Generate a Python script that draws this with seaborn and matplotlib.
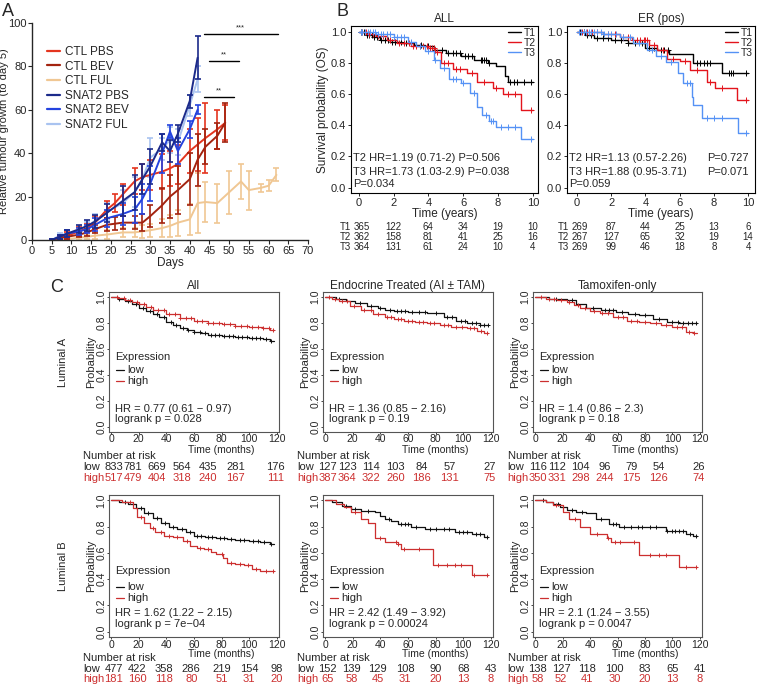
#!/usr/bin/env python3
"""Composite figure: tumour growth (A), OS by tertile (B), KM-plotter curves (C)."""

import matplotlib

matplotlib.use("Agg")
import matplotlib.pyplot as plt
from matplotlib.lines import Line2D
from matplotlib.transforms import blended_transform_factory
import numpy as np
import pandas as pd
import seaborn as sns

W, H = 757, 686

# ---------------------------------------------------------------------------
# Panel A: relative tumour growth
# ---------------------------------------------------------------------------
ctl_days = [5, 7, 9, 12, 14, 16, 19, 21, 23, 26, 28, 30, 33, 35, 37, 40, 42, 44, 47, 49]
ctl_pbs = [0, 1, 2, 4, 5.5, 8, 14, 17, 21, 27, 29, 30, 31.5, 33, 35, 41, 44, 47, 51, 54]
ctl_pbs_err = [0.5, 1, 1.5, 2, 2, 3, 4, 4, 5, 6, 6, 7, 8, 8, 9, 10, 12, 16, 9, 8]
ctl_bev = [0, 1, 1.5, 2.5, 3.5, 5, 7, 7.5, 8, 8, 8, 11, 16, 20, 23, 28, 37, 43, 48, 54]
ctl_bev_err = [0.5, 0.5, 1, 1, 1.5, 2, 3, 3, 3, 3, 4, 5, 8, 10, 11, 12, 12, 8, 6, 9]

ful_days = [5, 7, 9, 12, 14, 16, 19, 23, 26, 28, 30, 33, 35, 37, 40, 42, 44, 47, 50, 53,
            55, 58, 60, 62]
ctl_ful = [0, 0.3, 0.5, 1, 1.5, 2, 2.5, 3.5, 3.5, 4, 4.5, 5.5, 6.5, 8, 9.5, 17, 17.5, 17,
           22, 27, 23, 24, 25, 30]
ctl_ful_err = [0.3, 0.5, 0.5, 1, 1, 1.5, 2, 2, 2, 3, 3, 4, 5, 6, 7, 14, 9, 9, 10, 8, 9, 2,
               2.5, 3]

snat2_days = [5, 7, 9, 12, 14, 16, 19, 23, 26, 28, 30, 33, 35, 37, 40, 42]
snat2_pbs = [0, 1.5, 3, 5, 6.5, 8.5, 12.5, 18, 22, 28, 34, 45, 41, 49, 64, 84]
snat2_pbs_err = [0.5, 1, 1.5, 2, 2.5, 3, 4, 7, 8, 7, 8, 4, 5, 4, 3, 10]
snat2_bev = [0, 1.5, 3, 4, 5, 7, 10, 12, 14, 19, 26, 40, 50, 41, 51, 60]
snat2_bev_err = [0.5, 1, 1.5, 1.5, 2, 3, 4, 5, 6, 7, 8, 9, 3, 6, 4, 2]
snat2_ful = [0, 2, 3, 4.5, 6, 9, 13, 17, 22, 28, 38, 42, 46, 45, 62, 74]
snat2_ful_err = [0.5, 1, 1.5, 2, 2.5, 3, 4, 6, 7, 7, 9, 5, 6, 6, 5, 6]

groups = ["CTL PBS", "CTL BEV", "CTL FUL", "SNAT2 PBS", "SNAT2 BEV", "SNAT2 FUL"]
group_colors = {"CTL PBS": "#e4351f", "CTL BEV": "#a3230f", "CTL FUL": "#f0c793",
                "SNAT2 PBS": "#1b2a8a", "SNAT2 BEV": "#2443df", "SNAT2 FUL": "#a9c3f0"}

sig_x0 = [43.6, 44.9, 43.6]
sig_x1 = [62.3, 52.6, 51.3]
sig_y = [95, 82.5, 66]
sig_lab = ["***", "**", "**"]

# ---------------------------------------------------------------------------
# Panel B: survival by tertile (years)
# ---------------------------------------------------------------------------
all_t1_t = [0, 0.4, 0.8, 1.2, 1.8, 2.5, 3.2, 3.8, 4.3, 5.0, 5.9, 6.6, 7.4, 7.9, 8.4, 8.6, 10]
all_t1_s = [1.0, 0.985, 0.97, 0.95, 0.94, 0.93, 0.92, 0.91, 0.885, 0.865, 0.85, 0.82, 0.80,
            0.78, 0.72, 0.68, 0.68]
all_t1_c = [0.15, 0.3, 0.45, 0.6, 0.75, 0.9, 1.05, 1.3, 1.5, 1.7, 1.9, 2.1, 2.4, 2.7, 3.0,
            3.3, 3.6, 4.0, 4.4, 4.8, 5.1, 5.4, 5.6, 5.8, 6.1, 6.3, 6.5, 7.0, 7.1, 7.2, 7.3,
            7.5, 8.7, 8.9, 9.1, 9.5, 9.9]
all_t2_t = [0, 0.5, 1.0, 1.6, 2.2, 3.0, 4.0, 4.4, 4.7, 5.4, 6.2, 6.8, 7.7, 8.3, 9.35, 10]
all_t2_s = [1.0, 0.99, 0.975, 0.95, 0.93, 0.91, 0.90, 0.87, 0.80, 0.76, 0.74, 0.68, 0.64,
            0.60, 0.50, 0.50]
all_t2_c = [0.2, 0.4, 0.6, 0.8, 1.1, 1.4, 1.8, 2.3, 2.6, 2.9, 3.1, 3.3, 3.5, 3.7, 3.9, 4.1,
            4.2, 4.3, 4.5, 4.9, 5.1, 5.6, 5.8, 6.5, 7.2, 7.9, 8.6, 9.0, 9.9]
all_t3_t = [0, 1.0, 2.0, 2.8, 3.3, 3.8, 4.3, 4.65, 5.2, 5.9, 6.4, 6.8, 7.1, 7.5, 7.9, 9.35, 10]
all_t3_s = [1.0, 0.99, 0.97, 0.94, 0.91, 0.88, 0.82, 0.77, 0.70, 0.67, 0.61, 0.52, 0.47,
            0.43, 0.39, 0.31, 0.31]
all_t3_c = [0.1, 0.2, 0.35, 0.5, 0.65, 0.8, 0.95, 1.1, 1.25, 1.4, 1.6, 1.8, 2.0, 2.2, 2.4,
            2.6, 3.0, 3.5, 4.0, 4.4, 4.9, 5.4, 5.6, 6.0, 6.6, 7.3, 7.6, 7.7, 8.2, 8.6, 9.0, 9.9]

er_t1_t = [0, 0.5, 1.0, 2.0, 3.0, 4.0, 4.7, 5.4, 6.8, 8.5, 10]
er_t1_s = [1.0, 0.98, 0.96, 0.95, 0.93, 0.90, 0.885, 0.86, 0.80, 0.735, 0.735]
er_t1_c = [0.2, 0.4, 0.6, 0.8, 1.2, 1.5, 1.8, 2.2, 2.6, 3.0, 3.4, 3.8, 4.2, 4.5, 4.9, 5.1,
           5.3, 7.0, 7.2, 7.4, 7.6, 7.8, 8.9, 9.0, 9.1, 9.9]
er_t2_t = [0, 1.5, 2.5, 3.2, 4.2, 4.7, 5.24, 6.0, 6.6, 7.6, 8.07, 9.34, 10]
er_t2_s = [1.0, 0.99, 0.97, 0.95, 0.92, 0.885, 0.83, 0.815, 0.755, 0.68, 0.64, 0.565, 0.565]
er_t2_c = [0.3, 0.6, 0.9, 1.2, 1.8, 2.2, 2.7, 3.0, 3.3, 3.5, 3.7, 3.9, 4.0, 4.1, 4.5, 5.0,
           5.6, 6.3, 7.0, 7.8, 8.5, 9.9]
er_t3_t = [0, 1.5, 2.5, 3.3, 4.1, 4.6, 5.2, 5.9, 6.2, 6.7, 6.8, 7.3, 9.4, 10]
er_t3_s = [1.0, 0.99, 0.97, 0.93, 0.885, 0.85, 0.81, 0.74, 0.67, 0.58, 0.53, 0.447, 0.35, 0.35]
er_t3_c = [0.1, 0.25, 0.4, 0.55, 0.7, 0.85, 1.0, 1.2, 1.4, 1.6, 1.8, 2.0, 2.3, 2.7, 3.1, 3.6,
           4.4, 4.9, 5.5, 6.4, 6.6, 7.6, 8.0, 8.5, 9.9]

risk_years = [0, 2, 4, 6, 8, 10]
all_risk = {"T1": [365, 122, 64, 34, 19, 10], "T2": [362, 158, 81, 41, 25, 16],
            "T3": [364, 131, 61, 24, 10, 4]}
er_risk = {"T1": [269, 87, 44, 25, 13, 6], "T2": [267, 127, 65, 32, 19, 14],
           "T3": [269, 99, 46, 18, 8, 4]}
all_stats = ["T2 HR=1.19 (0.71-2) P=0.506", "T3 HR=1.73 (1.03-2.9) P=0.038", "P=0.034"]
er_stats = ["T2 HR=1.13 (0.57-2.26)", "T3 HR=1.88 (0.95-3.71)", "P=0.059"]
er_pvals = ["P=0.727", "P=0.071"]
tert_colors = {"T1": "black", "T2": "#e3141c", "T3": "#5592f5"}

# ---------------------------------------------------------------------------
# Panel C: KM plotter (months)
# ---------------------------------------------------------------------------
c_titles = ["All", "Endocrine Treated (AI \u00b1 TAM)", "Tamoxifen-only"]
c_rows = ["Luminal A", "Luminal B"]

la_all_low_t = [0, 5, 10, 15, 20, 25, 30, 35, 40, 45, 50, 55, 60, 65, 70, 80, 90, 100, 110, 115, 118]
la_all_low_s = [1.0, 0.985, 0.97, 0.95, 0.92, 0.895, 0.87, 0.845, 0.81, 0.785, 0.76, 0.745,
                0.73, 0.72, 0.71, 0.70, 0.69, 0.685, 0.68, 0.665, 0.665]
la_all_high_t = [0, 5, 10, 15, 20, 25, 30, 40, 50, 60, 70, 80, 90, 100, 110, 115, 118]
la_all_high_s = [1.0, 0.99, 0.98, 0.96, 0.945, 0.925, 0.905, 0.87, 0.84, 0.82, 0.80, 0.79,
                 0.78, 0.77, 0.76, 0.745, 0.745]
la_all_low_c = [6, 12, 18, 23, 28, 33, 38, 43, 47, 52, 56, 60, 64, 68, 72, 75, 78, 82, 85,
                88, 92, 95, 98, 102, 105, 108, 112, 116]
la_all_high_c = [4, 9, 14, 19, 24, 29, 34, 38, 42, 46, 50, 54, 58, 62, 66, 70, 74, 78, 82,
                 86, 90, 94, 98, 102, 106, 110, 114, 117]

la_end_low_t = [0, 8, 15, 22, 30, 38, 43, 50, 60, 74, 86, 95, 103, 112, 118]
la_end_low_s = [1.0, 0.985, 0.97, 0.955, 0.935, 0.915, 0.90, 0.89, 0.885, 0.875, 0.85, 0.82,
                0.80, 0.785, 0.785]
la_end_high_t = [0, 5, 10, 18, 26, 35, 43, 50, 57, 65, 74, 83, 91, 103, 110, 115, 118]
la_end_high_s = [1.0, 0.985, 0.97, 0.935, 0.90, 0.87, 0.85, 0.835, 0.82, 0.81, 0.80, 0.785,
                 0.77, 0.76, 0.74, 0.72, 0.72]
la_end_low_c = [10, 25, 33, 40, 47, 52, 55, 58, 63, 68, 72, 80, 88, 92, 98, 101, 106, 109,
                112, 115, 118]
la_end_high_c = [3, 7, 12, 16, 21, 28, 33, 38, 45, 48, 53, 55, 60, 63, 68, 71, 76, 79, 86,
                 89, 95, 99, 105, 108, 113, 117]

la_tam_low_t = [0, 10, 23, 30, 37, 48, 59, 68, 76, 86, 96, 105, 118]
la_tam_low_s = [1.0, 0.985, 0.975, 0.95, 0.915, 0.90, 0.885, 0.87, 0.86, 0.835, 0.81, 0.80, 0.80]
la_tam_high_t = [0, 8, 16, 23, 28, 33, 40, 47, 57, 67, 76, 84, 92, 100, 110, 115, 118]
la_tam_high_s = [1.0, 0.985, 0.975, 0.96, 0.94, 0.92, 0.895, 0.875, 0.845, 0.82, 0.81, 0.80,
                 0.785, 0.77, 0.735, 0.72, 0.72]
la_tam_low_c = [15, 27, 42, 51, 54, 57, 63, 73, 80, 90, 100, 104, 108, 111, 114, 117]
la_tam_high_c = [4, 10, 14, 19, 25, 31, 36, 43, 49, 53, 60, 64, 70, 74, 80, 88, 95, 103,
                 107, 112, 116]

lb_all_low_t = [0, 6, 12, 18, 24, 30, 36, 42, 48, 54, 60, 68, 76, 84, 90, 100, 108, 115, 118]
lb_all_low_s = [1.0, 0.99, 0.975, 0.94, 0.90, 0.865, 0.83, 0.80, 0.78, 0.755, 0.73, 0.72,
                0.715, 0.705, 0.70, 0.69, 0.68, 0.667, 0.667]
lb_all_high_t = [0, 8, 12, 16, 19, 24, 28, 32, 38, 45, 52, 57, 62, 67, 72, 76, 81, 84, 90,
                 96, 102, 108, 118]
lb_all_high_s = [1.0, 0.99, 0.985, 0.94, 0.87, 0.83, 0.79, 0.756, 0.73, 0.72, 0.69, 0.65,
                 0.64, 0.63, 0.61, 0.59, 0.56, 0.525, 0.515, 0.51, 0.48, 0.46, 0.46]
lb_all_low_c = [10, 16, 22, 27, 33, 39, 45, 51, 57, 62, 65, 70, 73, 79, 82, 87, 93, 96,
                103, 106, 111, 116]
lb_all_high_c = [14, 22, 30, 36, 42, 48, 55, 64, 70, 80, 87, 93, 99, 105, 112, 117]

lb_end_low_t = [0, 5, 12, 19, 26, 36, 40, 43, 48, 53, 62, 72, 94, 106, 115, 118]
lb_end_low_s = [1.0, 0.985, 0.96, 0.935, 0.92, 0.91, 0.88, 0.86, 0.84, 0.82, 0.80, 0.78,
                0.755, 0.74, 0.72, 0.72]
lb_end_high_t = [0, 8, 14, 19, 26, 31, 36, 43, 53, 55, 78, 106, 118]
lb_end_high_s = [1.0, 0.975, 0.95, 0.91, 0.86, 0.83, 0.71, 0.68, 0.67, 0.63, 0.51, 0.43, 0.43]
lb_end_low_c = [8, 15, 22, 31, 46, 55, 58, 60, 66, 76, 80, 86, 90, 97, 100, 103, 109, 112, 117]
lb_end_high_c = [22, 40, 51, 53, 57, 68, 82, 88, 94, 98, 108, 117]

lb_tam_low_t = [0, 8, 13, 18, 23, 30, 37, 44, 54, 61, 80, 95, 110, 115, 118]
lb_tam_low_s = [1.0, 0.99, 0.975, 0.95, 0.925, 0.91, 0.90, 0.86, 0.82, 0.80, 0.795, 0.77,
                0.745, 0.725, 0.725]
lb_tam_high_t = [0, 8, 13, 20, 25, 33, 40, 52, 55, 76, 105, 118]
lb_tam_high_s = [1.0, 0.985, 0.965, 0.91, 0.86, 0.80, 0.74, 0.71, 0.68, 0.58, 0.49, 0.49]
lb_tam_low_c = [6, 17, 27, 34, 48, 57, 59, 65, 70, 75, 78, 84, 88, 96, 100, 102, 105, 108,
                113, 117]
lb_tam_high_c = [15, 29, 45, 53, 58, 62, 72, 84, 90, 95, 110, 117]

c_curves = [
    [(la_all_low_t, la_all_low_s, la_all_low_c, la_all_high_t, la_all_high_s, la_all_high_c),
     (la_end_low_t, la_end_low_s, la_end_low_c, la_end_high_t, la_end_high_s, la_end_high_c),
     (la_tam_low_t, la_tam_low_s, la_tam_low_c, la_tam_high_t, la_tam_high_s, la_tam_high_c)],
    [(lb_all_low_t, lb_all_low_s, lb_all_low_c, lb_all_high_t, lb_all_high_s, lb_all_high_c),
     (lb_end_low_t, lb_end_low_s, lb_end_low_c, lb_end_high_t, lb_end_high_s, lb_end_high_c),
     (lb_tam_low_t, lb_tam_low_s, lb_tam_low_c, lb_tam_high_t, lb_tam_high_s, lb_tam_high_c)],
]
c_hr = [["HR = 0.77 (0.61 \u2212 0.97)", "HR = 1.36 (0.85 \u2212 2.16)", "HR = 1.4 (0.86 \u2212 2.3)"],
        ["HR = 1.62 (1.22 \u2212 2.15)", "HR = 2.42 (1.49 \u2212 3.92)", "HR = 2.1 (1.24 \u2212 3.55)"]]
c_p = [["logrank p = 0.028", "logrank p = 0.19", "logrank p = 0.18"],
       ["logrank p = 7e\u221204", "logrank p = 0.00024", "logrank p = 0.0047"]]
risk_months = [0, 20, 40, 60, 80, 100, 120]
c_low_risk = [[[833, 781, 669, 564, 435, 281, 176], [127, 123, 114, 103, 84, 57, 27],
               [116, 112, 104, 96, 79, 54, 26]],
              [[477, 422, 358, 286, 219, 154, 98], [152, 139, 129, 108, 90, 68, 43],
               [138, 127, 118, 100, 83, 65, 41]]]
c_high_risk = [[[517, 479, 404, 318, 240, 167, 111], [387, 364, 322, 260, 186, 131, 75],
                [350, 331, 298, 244, 175, 126, 74]],
               [[181, 160, 118, 80, 51, 31, 20], [65, 58, 45, 31, 20, 13, 8],
                [58, 52, 41, 30, 20, 13, 8]]]
low_color, high_color = "#111111", "#cc2f2f"

# ---------------------------------------------------------------------------
sns.set_style("ticks")
plt.rcParams["font.family"] = ["Liberation Sans", "DejaVu Sans"]

fig = plt.figure(figsize=(W / 100, H / 100), dpi=100)


def px_axes(x0, y0, x1, y1):
    return fig.add_axes([x0 / W, 1 - y1 / H, (x1 - x0) / W, (y1 - y0) / H])


def fy(y):
    return 1 - y / H


def km(ax, t, s, cens, color, lw=1.0, ms=4.0):
    sns.lineplot(x=t, y=s, drawstyle="steps-post", color=color, lw=lw,
                 estimator=None, sort=False, ax=ax)
    t = np.asarray(t)
    s = np.asarray(s)
    idx = np.searchsorted(t, cens, side="right") - 1
    ax.plot(cens, s[idx], ls="none", marker="+", ms=ms, mew=0.7, color=color)


# ---- Panel A --------------------------------------------------------------
axA = px_axes(32, 23, 308, 240)
series = [(ctl_days, ctl_pbs, ctl_pbs_err), (ctl_days, ctl_bev, ctl_bev_err),
          (ful_days, ctl_ful, ctl_ful_err), (snat2_days, snat2_pbs, snat2_pbs_err),
          (snat2_days, snat2_bev, snat2_bev_err), (snat2_days, snat2_ful, snat2_ful_err)]
rows = []
for g, (d, v, e) in zip(groups, series):
    for di, vi, ei in zip(d, v, e):
        rows.append({"group": g, "day": di, "growth": vi, "err": ei})
dfA = pd.DataFrame(rows)
draw_order = ["CTL FUL", "SNAT2 FUL", "CTL PBS", "CTL BEV", "SNAT2 BEV", "SNAT2 PBS"]
for g in draw_order:
    sub = dfA[dfA["group"] == g]
    axA.errorbar(sub["day"], sub["growth"], yerr=sub["err"], fmt="none",
                 ecolor=group_colors[g], elinewidth=1.2, capsize=2.2, capthick=1.2)
    sns.lineplot(data=sub, x="day", y="growth", color=group_colors[g], lw=1.4,
                 estimator=None, ax=axA)
axA.set_xlim(0, 70)
axA.set_ylim(0, 100)
axA.set_xticks(range(0, 71, 5))
axA.set_yticks(range(0, 101, 20))
axA.tick_params(labelsize=8, length=3, width=0.8, pad=1)
for sp in ["top", "right"]:
    axA.spines[sp].set_visible(False)
axA.spines["left"].set_linewidth(1.0)
axA.spines["bottom"].set_linewidth(1.0)
axA.set_xlabel("Days", fontsize=8.5, labelpad=1)
axA.set_ylabel("Relative tumour growth (to day 5)", fontsize=8)
axA.yaxis.set_label_coords(-0.083, 0.5)
for x0, x1, y, lab in zip(sig_x0, sig_x1, sig_y, sig_lab):
    axA.plot([x0, x1], [y, y], color="black", lw=1.0)
    axA.text((x0 + x1) / 2, y + 1.0, lab, ha="center", va="bottom", fontsize=5.5)
handles = [Line2D([], [], color=group_colors[g], lw=1.6) for g in groups]
axA.legend(handles, groups, loc="upper left", bbox_to_anchor=(47 / W, fy(46)),
           bbox_transform=fig.transFigure, frameon=False, fontsize=8.5,
           handlelength=1.1, handletextpad=0.4, labelspacing=0.22, borderpad=0,
           borderaxespad=0)
fig.text(2 / W, fy(11), "A", fontsize=13, va="center", ha="left")

# ---- Panel B --------------------------------------------------------------
fig.text(337 / W, fy(11), "B", fontsize=13, va="center", ha="left")
b_specs = [
    ((351, 26, 538, 193), "ALL",
     [(all_t1_t, all_t1_s, all_t1_c), (all_t2_t, all_t2_s, all_t2_c),
      (all_t3_t, all_t3_s, all_t3_c)], all_risk),
    ((567, 26, 755, 193), "ER (pos)",
     [(er_t1_t, er_t1_s, er_t1_c), (er_t2_t, er_t2_s, er_t2_c),
      (er_t3_t, er_t3_s, er_t3_c)], er_risk),
]
for k, (box, title, curves, risk) in enumerate(b_specs):
    ax = px_axes(*box)
    for name, (t, s, c) in zip(["T1", "T2", "T3"], curves):
        km(ax, t, s, c, tert_colors[name], lw=1.0, ms=4.5)
    if k == 0:
        ax.set_xlim(-0.45, 10.3)
    else:
        ax.set_xlim(-0.58, 10.4)
    ax.set_ylim(-0.035, 1.04)
    ax.set_xticks(risk_years)
    ax.set_yticks([0, 0.2, 0.4, 0.6, 0.8, 1.0])
    ax.set_yticklabels(["0.0", "0.2", "0.4", "0.6", "0.8", "1.0"])
    ax.tick_params(labelsize=8, length=2.5, width=0.7, pad=1)
    for sp in ax.spines.values():
        sp.set_linewidth(0.8)
        sp.set_color("black")
    ax.set_title(title, fontsize=8.5, pad=3)
    ax.set_xlabel("Time (years)", fontsize=8.5, labelpad=0)
    if k == 0:
        ax.set_ylabel("Survival probability (OS)", fontsize=8.5, labelpad=1)
    hl = [Line2D([], [], color=tert_colors[n], lw=1.0) for n in ["T1", "T2", "T3"]]
    ax.legend(hl, ["T1", "T2", "T3"], loc="upper right", frameon=False, fontsize=7.5,
              handlelength=1.2, handletextpad=0.3, labelspacing=0.0, borderpad=0.1,
              borderaxespad=0.1)
    stats = all_stats if k == 0 else er_stats
    x_left = ax.get_xlim()[0] + 0.1
    for txt, yv in zip(stats, [0.19, 0.10, 0.02]):
        ax.text(x_left, yv, txt, fontsize=8, va="center", ha="left")
    if k == 1:
        for txt, yv in zip(er_pvals, [0.19, 0.10]):
            ax.text(10.05, yv, txt, fontsize=8, va="center", ha="right")
    tr = blended_transform_factory(ax.transData, fig.transFigure)
    for r, (name, vals) in enumerate(risk.items()):
        yy = fy(227 + 10 * r)
        ax.text(-0.45, yy, name, transform=tr, fontsize=7, ha="right", va="center")
        for xv, n in zip(risk_years, vals):
            ax.text(xv + (0.15 if xv == 0 else 0), yy, str(n), transform=tr, fontsize=7,
                    ha="center", va="center")

# ---- Panel C --------------------------------------------------------------
fig.text(50 / W, fy(288), "C", fontsize=13, va="center", ha="left")
col_x = [(109, 279), (323, 493), (533, 702)]
row_y = [(292, 432), (495, 637)]
row_text_y = [(450, 456, 467, 478), (654, 658, 669, 679)]
leg_y = [(0.535, 0.44, 0.355), (0.46, 0.34, 0.26)]
risk_pos = [[2, 16, 33, 51, 70, 90, 119], [2, 19, 38, 58, 80, 100, 120]]
FS = 8
for r in range(2):
    y0, y1 = row_y[r]
    fig.text(63 / W, fy((y0 + y1) / 2), c_rows[r], rotation=90, fontsize=FS,
             ha="center", va="center")
    for c in range(3):
        x0, x1 = col_x[c]
        ax = px_axes(x0, y0, x1, y1)
        lt, ls_, lc, ht, hs, hc = c_curves[r][c]
        km(ax, lt, ls_, lc, low_color, lw=0.9, ms=3.2)
        km(ax, ht, hs, hc, high_color, lw=0.9, ms=3.2)
        ax.set_xlim(-1.5, 121.5)
        ax.set_ylim(-0.04, 1.04)
        ax.set_xticks(risk_months)
        ax.set_yticks([0, 0.2, 0.4, 0.6, 0.8, 1.0])
        ax.set_yticklabels(["0.0", "0.2", "0.4", "0.6", "0.8", "1.0"])
        ax.tick_params(labelsize=7.5, length=1.5, width=0.7, pad=0.3, color="#444444")
        for lab in ax.get_yticklabels():
            lab.set_rotation(90)
            lab.set_va("center")
        for sp in ax.spines.values():
            sp.set_linewidth(0.8)
            sp.set_color("#555555")
        if r == 0:
            ax.set_title(c_titles[c], fontsize=8.5, pad=2)
        ax.set_ylabel("Probability", fontsize=FS, labelpad=0)
        ly = leg_y[r]
        ax.text(3, ly[0], "Expression", fontsize=FS, va="center", ha="left")
        ax.plot([3.5, 9.5], [ly[1], ly[1]], color=low_color, lw=0.9)
        ax.plot([3.5, 9.5], [ly[2], ly[2]], color=high_color, lw=0.9)
        ax.text(12, ly[1], "low", fontsize=FS, va="center", ha="left")
        ax.text(12, ly[2], "high", fontsize=FS, va="center", ha="left")
        ax.text(3, 0.14, c_hr[r][c], fontsize=FS, va="center", ha="left")
        ax.text(3, 0.06, c_p[r][c], fontsize=FS, va="center", ha="left")
        ty_lab, ty_nar, ty_low, ty_high = row_text_y[r]
        tr = blended_transform_factory(ax.transData, fig.transFigure)
        ax.text(80, fy(ty_lab), "Time (months)", transform=tr, fontsize=7.5,
                ha="center", va="center")
        xl = -20
        ax.text(xl, fy(ty_nar), "Number at risk", transform=tr, fontsize=FS,
                ha="left", va="center")
        ax.text(xl, fy(ty_low), "low", transform=tr, fontsize=FS, ha="left", va="center")
        ax.text(xl, fy(ty_high), "high", transform=tr, fontsize=FS, ha="left",
                va="center", color=high_color)
        for xv, nl, nh in zip(risk_pos[r], c_low_risk[r][c], c_high_risk[r][c]):
            ax.text(xv, fy(ty_low), str(nl), transform=tr, fontsize=FS, ha="center",
                    va="center")
            ax.text(xv, fy(ty_high), str(nh), transform=tr, fontsize=FS, ha="center",
                    va="center", color=high_color)

fig.savefig("out.png", dpi=100)
